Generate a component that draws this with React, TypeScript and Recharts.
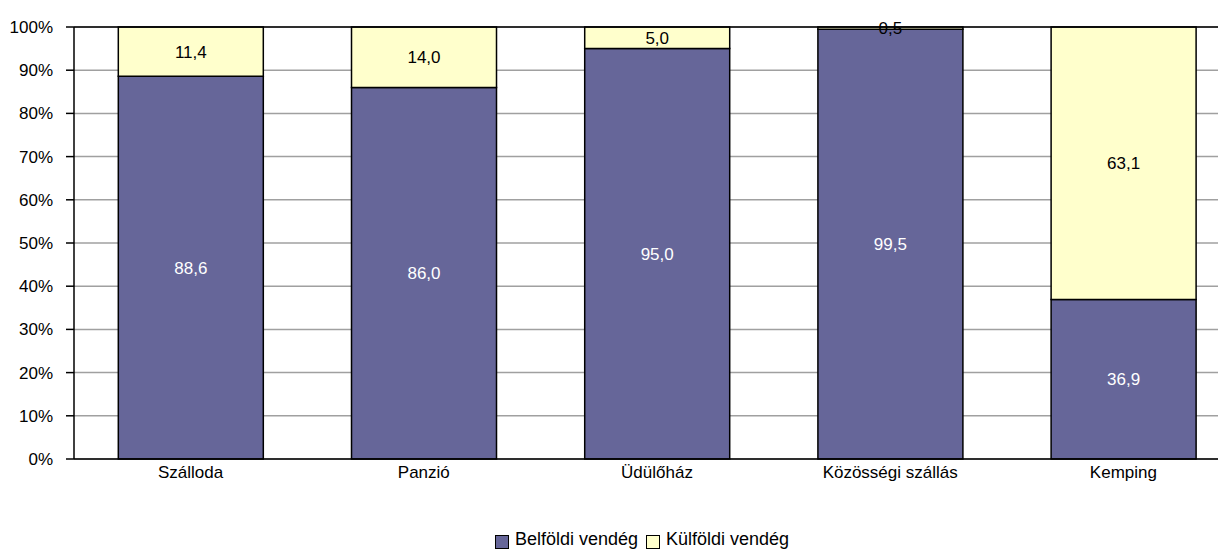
import React from 'react';
import { BarChart, Bar, XAxis, YAxis, CartesianGrid, Legend, LabelList, ReferenceLine } from 'recharts';

const categories = ['Szálloda', 'Panzió', 'Üdülőház', 'Közösségi szállás', 'Kemping'];
const belfoldi = [88.6, 86.0, 95.0, 99.5, 36.9];
const kulfoldi = [11.4, 14.0, 5.0, 0.5, 63.1];
const yTicks = [0, 10, 20, 30, 40, 50, 60, 70, 80, 90, 100];

const data = categories.map((name, i) => ({ name, belfoldi: belfoldi[i], kulfoldi: kulfoldi[i] }));

const FONT = 'Arial, "Liberation Sans", sans-serif';
const fmt = (v: any) => Number(v).toFixed(1).replace('.', ',');

const series = [
  { key: 'belfoldi', name: 'Belföldi vendég', color: '#666699' },
  { key: 'kulfoldi', name: 'Külföldi vendég', color: '#FFFFCC' },
];

const LegendBox = () => (
  <div style={{ display: 'flex', justifyContent: 'center', fontFamily: FONT, fontSize: 18, color: '#000', paddingLeft: 44 }}>
    {series.map((s) => (
      <div key={s.key} style={{ display: 'flex', alignItems: 'center', marginRight: 8 }}>
        <span style={{ width: 12, height: 12, background: s.color, border: '1px solid #000', marginRight: 6, marginTop: 4 }} />
        <span>{s.name}</span>
      </div>
    ))}
  </div>
);

const App: React.FC = () => (
  <div style={{ width: 1218, height: 544, overflow: 'hidden' }}>
    <BarChart
      width={1232}
      height={544}
      data={data}
      barCategoryGap="19%"
      margin={{ top: 19, right: 0, left: 0, bottom: 2 }}
    >
      <CartesianGrid vertical={false} stroke="#a0a0a0" strokeWidth={1.5} />
      <XAxis
        dataKey="name"
        tickLine={false}
        tickSize={0}
        axisLine={{ stroke: '#000', strokeWidth: 1.5 }}
        tick={{ fill: '#000', fontSize: 17, fontFamily: FONT }}
        tickMargin={7}
        height={70}
      />
      <YAxis
        domain={[0, 100]}
        ticks={yTicks}
        interval={0}
        width={66}
        tickFormatter={(v) => `${v}%`}
        tickSize={8}
        tickMargin={13}
        tickLine={{ stroke: '#000', strokeWidth: 1.5 }}
        axisLine={{ stroke: '#000', strokeWidth: 1.5 }}
        tick={{ fill: '#000', fontSize: 17, fontFamily: FONT }}
      />
      <ReferenceLine y={100} stroke="#000" strokeWidth={1.5} />
      <Legend verticalAlign="bottom" content={() => <LegendBox />} />
      <Bar dataKey="belfoldi" name="Belföldi vendég" stackId="a" fill="#666699" stroke="#000" strokeWidth={1.5} isAnimationActive={false}>
        <LabelList dataKey="belfoldi" position="center" formatter={fmt} fill="#fff" fontSize={17} fontFamily={FONT} />
      </Bar>
      <Bar dataKey="kulfoldi" name="Külföldi vendég" stackId="a" fill="#FFFFCC" stroke="#000" strokeWidth={1.5} isAnimationActive={false}>
        <LabelList dataKey="kulfoldi" position="center" formatter={fmt} fill="#000" fontSize={17} fontFamily={FONT} />
      </Bar>
    </BarChart>
  </div>
);

export default App;
